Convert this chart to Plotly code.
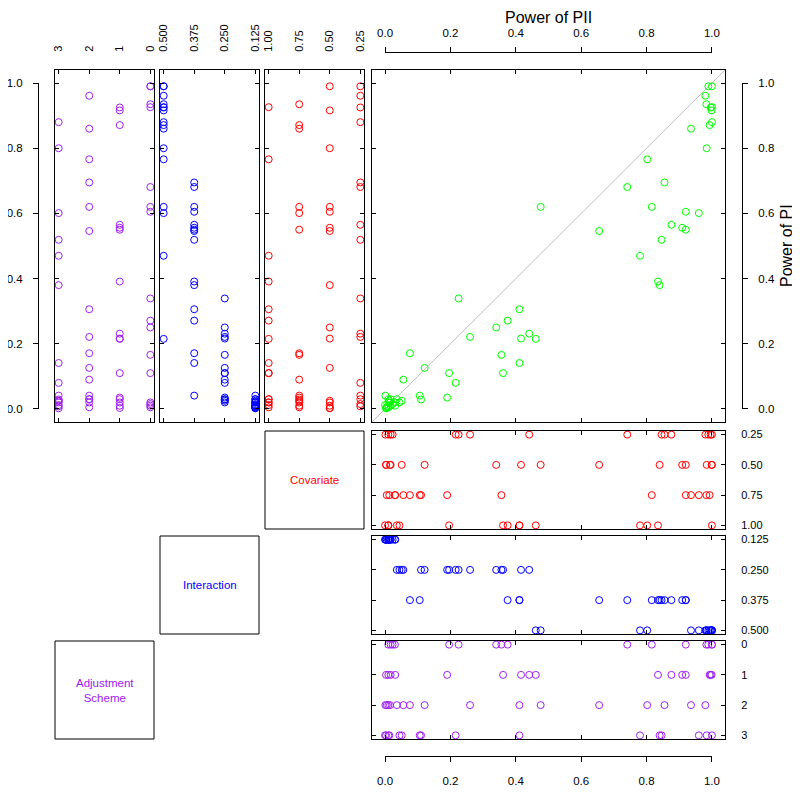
import plotly.graph_objects as go

# ---------------- data ----------------
pii = [
    # interaction 0.500
    0.461, 0.476, 0.780, 0.802, 0.936, 0.960, 0.989, 1.000, 0.980, 0.983, 1.000, 0.999, 1.000, 0.993, 0.984, 0.996,
    # interaction 0.375
    0.855, 0.741, 0.816, 0.920, 0.876, 0.655, 0.909, 0.920, 0.846, 0.835, 0.840, 0.411, 0.375, 0.076, 0.411, 0.106,
    # interaction 0.250
    0.225, 0.340, 0.441, 0.260, 0.416, 0.356, 0.121, 0.196, 0.361, 0.056, 0.216, 0.110, 0.190, 0.036, 0.044, 0.051,
    # interaction 0.125
    0.023, 0.017, 0.001, 0.010, 0.017, 0.003, 0.015, 0.003, 0.030, 0.031, 0.005, 0.013, 0.010, 0.010, 0.010, 0.000,
]
pi_power = [
    0.215, 0.620, 0.470, 0.766, 0.860, 0.601, 0.990, 0.990, 0.961, 0.935, 0.926, 0.916, 0.880, 0.871, 0.800, 0.925,
    0.695, 0.681, 0.620, 0.605, 0.565, 0.546, 0.556, 0.550, 0.519, 0.391, 0.380, 0.306, 0.271, 0.171, 0.141, 0.041,
    0.339, 0.250, 0.231, 0.221, 0.216, 0.166, 0.126, 0.110, 0.110, 0.090, 0.080, 0.029, 0.035, 0.030, 0.020, 0.025,
    0.015, 0.030, 0.041, 0.008, 0.010, 0.003, 0.020, 0.002, 0.020, 0.010, 0.005, 0.025, 0.005, 0.020, 0.030, 0.012,
]
covariate = [
    1.00, 0.50, 1.00, 1.00, 0.75, 0.75, 0.25, 0.50, 0.25, 0.75, 1.00, 0.50, 0.25, 0.75, 0.50, 0.25,
    0.25, 0.25, 0.75, 0.50, 0.25, 0.50, 0.50, 0.75, 0.25, 1.00, 0.50, 1.00, 1.00, 0.75, 1.00, 0.75,
    0.25, 0.50, 0.25, 0.25, 0.50, 0.75, 0.50, 1.00, 1.00, 0.75, 0.25, 0.75, 0.75, 1.00, 1.00, 0.50,
    0.25, 0.25, 0.25, 0.25, 0.50, 0.50, 0.50, 0.50, 0.75, 0.75, 0.75, 0.75, 1.00, 1.00, 1.00, 1.00,
]
interaction = [0.500] * 16 + [0.375] * 16 + [0.250] * 16 + [0.125] * 16
adjustment = [
    1, 2, 3, 2, 2, 3, 0, 0, 2, 0, 0, 1, 3, 1, 3, 1,
    2, 0, 0, 0, 1, 2, 1, 1, 3, 1, 3, 2, 0, 2, 3, 3,
    0, 0, 1, 2, 1, 0, 2, 0, 1, 2, 3, 3, 1, 2, 3, 3,
    0, 1, 2, 3, 0, 1, 2, 3, 0, 1, 2, 3, 0, 1, 2, 3,
]

power_ticks = [0.0, 0.2, 0.4, 0.6, 0.8, 1.0]
power_labels = ["0.0", "0.2", "0.4", "0.6", "0.8", "1.0"]
adj_levels = [0, 1, 2, 3]
adj_labels = ["0", "1", "2", "3"]
int_levels = [0.125, 0.250, 0.375, 0.500]
int_labels = ["0.125", "0.250", "0.375", "0.500"]
cov_levels = [0.25, 0.50, 0.75, 1.00]
cov_labels = ["0.25", "0.50", "0.75", "1.00"]

# ---------------- layout geometry (window pixels) ----------------
# the page body keeps its default 8px margin, so the figure is drawn 8px in
OFF = 8
FW, FH = 800 - OFF, 792 - OFF
def fx(p):
    return (p - OFF) / FW
def fy(p):
    return 1 - (p - OFF) / FH

COL = {"adj": (55, 154), "int": (160, 259), "cov": (265, 364), "main": (372, 725)}
ROW = {"main": (70, 422), "cov": (431, 529), "int": (536, 634), "adj": (641, 739)}

PURPLE = "#A020F0"
BLUE = "#0000FF"
RED = "#FF0000"
GREEN = "#00FF00"
FONT = "Liberation Sans, Arial, Helvetica, sans-serif"

def padded(vals, rev=False):
    lo, hi = min(vals), max(vals)
    d = (hi - lo) * 0.04
    r = [lo - d, hi + d]
    return r[::-1] if rev else r

P_RANGE = padded(power_ticks)
ADJ_RANGE = padded(adj_levels, rev=True)
INT_RANGE = padded(int_levels, rev=True)
COV_RANGE = padded(cov_levels, rev=True)

def xdom(c):
    a, b = COL[c]
    return [fx(a), fx(b)]
def ydom(r):
    a, b = ROW[r]
    return [fy(b), fy(a)]

def panel_axis(domain, rng, tickvals, anchor, ticktext=None, side=None,
               labels=False, angle=None, standoff=0):
    ax = dict(domain=domain, range=rng, tickvals=tickvals, anchor=anchor,
              ticks="inside", ticklen=4, tickwidth=1, tickcolor="black",
              showline=True, linecolor="black", linewidth=1, mirror="ticks",
              showgrid=False, zeroline=False, showticklabels=labels,
              automargin=False,
              tickfont=dict(family=FONT, size=11, color="black"))
    if ticktext is not None:
        ax["ticktext"] = ticktext
    if side is not None:
        ax["side"] = side
    if angle is not None:
        ax["tickangle"] = angle
    if standoff:
        ax["ticklabelstandoff"] = standoff
    return ax

def mk(x, y, color, xa, ya):
    return go.Scatter(x=x, y=y, mode="markers", xaxis=xa, yaxis=ya,
                      marker=dict(symbol="circle-open", size=7, color=color,
                                  line=dict(width=1, color=color)),
                      showlegend=False, hoverinfo="skip")

fig = go.Figure()
# top row: PI against each factor, then main panel
fig.add_trace(mk(adjustment, pi_power, PURPLE, "x", "y"))
fig.add_trace(mk(interaction, pi_power, BLUE, "x2", "y2"))
fig.add_trace(mk(covariate, pi_power, RED, "x3", "y3"))
fig.add_trace(go.Scatter(x=P_RANGE, y=P_RANGE, mode="lines", xaxis="x4", yaxis="y4",
                         line=dict(color="#BEBEBE", width=1), showlegend=False,
                         hoverinfo="skip"))
fig.add_trace(mk(pii, pi_power, GREEN, "x4", "y4"))
# lower strips: PII against each factor
fig.add_trace(mk(pii, covariate, RED, "x5", "y5"))
fig.add_trace(mk(pii, interaction, BLUE, "x6", "y6"))
fig.add_trace(mk(pii, adjustment, PURPLE, "x7", "y7"))
# carriers for the outer axes
fig.add_trace(go.Scatter(x=[], y=[], xaxis="x8", yaxis="y10", showlegend=False))
fig.add_trace(go.Scatter(x=[], y=[], xaxis="x9", yaxis="y11", showlegend=False))

# pixel position of 0 and 1 on the power scale inside the main panel
def hpx(v):
    a, b = COL["main"]
    return a + (v - P_RANGE[0]) / (P_RANGE[1] - P_RANGE[0]) * (b - a)
def vpx(v):
    a, b = ROW["main"]
    return b - (v - P_RANGE[0]) / (P_RANGE[1] - P_RANGE[0]) * (b - a)
mx0, mx1 = hpx(0.0), hpx(1.0)
my0, my1 = vpx(0.0), vpx(1.0)

def outer_axis(domain, side, position, standoff):
    return dict(domain=domain, range=[0, 1], anchor="free", position=position, side=side,
                tickvals=power_ticks, ticktext=power_labels, ticks="outside",
                ticklen=5, tickwidth=1, tickcolor="black", showline=True,
                linecolor="black", linewidth=1, showgrid=False, zeroline=False,
                ticklabelstandoff=standoff, automargin=False,
                tickfont=dict(family=FONT, size=11.5, color="black"))

layout = dict(
    width=FW, height=FH, margin=dict(l=0, r=0, t=0, b=0, autoexpand=False),
    paper_bgcolor="white", plot_bgcolor="rgba(0,0,0,0)", showlegend=False,
    font=dict(family=FONT, color="black"),
    xaxis=panel_axis(xdom("adj"), ADJ_RANGE, adj_levels, "y", adj_labels, "top", True, -90, 15),
    yaxis=panel_axis(ydom("main"), P_RANGE, power_ticks, "x"),
    xaxis2=panel_axis(xdom("int"), INT_RANGE, int_levels, "y2", int_labels, "top", True, -90, 15),
    yaxis2=panel_axis(ydom("main"), P_RANGE, power_ticks, "x2"),
    xaxis3=panel_axis(xdom("cov"), COV_RANGE, cov_levels, "y3", cov_labels, "top", True, -90, 15),
    yaxis3=panel_axis(ydom("main"), P_RANGE, power_ticks, "x3"),
    xaxis4=panel_axis(xdom("main"), P_RANGE, power_ticks, "y4"),
    yaxis4=panel_axis(ydom("main"), P_RANGE, power_ticks, "x4"),
    xaxis5=panel_axis(xdom("main"), P_RANGE, power_ticks, "y5"),
    yaxis5=panel_axis(ydom("cov"), COV_RANGE, cov_levels, "x5", cov_labels, "right", True, None, 13),
    xaxis6=panel_axis(xdom("main"), P_RANGE, power_ticks, "y6"),
    yaxis6=panel_axis(ydom("int"), INT_RANGE, int_levels, "x6", int_labels, "right", True, None, 13),
    xaxis7=panel_axis(xdom("main"), P_RANGE, power_ticks, "y7"),
    yaxis7=panel_axis(ydom("adj"), ADJ_RANGE, adj_levels, "x7", adj_labels, "right", True, None, 13),
    xaxis8=outer_axis([fx(mx0), fx(mx1)], "top", fy(52), 5),
    xaxis9=outer_axis([fx(mx0), fx(mx1)], "bottom", fy(756), 9),
    yaxis10=outer_axis([fy(my0), fy(my1)], "left", fx(38), 8),
    yaxis11=outer_axis([fy(my0), fy(my1)], "right", fx(742), 8),
)
fig.update_layout(**layout)

# diagonal name boxes
boxes = [("Covariate", "cov", "cov", RED),
         ("Interaction", "int", "int", BLUE),
         ("Adjustment<br>Scheme", "adj", "adj", PURPLE)]
for text, c, r, color in boxes:
    x0, x1 = COL[c]
    y0, y1 = ROW[r]
    fig.add_shape(type="rect", xref="paper", yref="paper",
                  x0=fx(x0), x1=fx(x1), y0=fy(y1), y1=fy(y0),
                  line=dict(color="black", width=1))
    fig.add_annotation(xref="paper", yref="paper", x=fx((x0 + x1) / 2), y=fy((y0 + y1) / 2),
                       text=text, showarrow=False, xanchor="center", yanchor="middle",
                       font=dict(family=FONT, size=11.5, color=color))

# axis titles
fig.add_annotation(xref="paper", yref="paper", x=fx((mx0 + mx1) / 2), y=fy(OFF),
                   text="Power of PII", showarrow=False, xanchor="center", yanchor="top",
                   borderpad=0, font=dict(family=FONT, size=16, color="black"))
fig.add_annotation(xref="paper", yref="paper", x=fx(786), y=fy((my0 + my1) / 2),
                   text="Power of PI", showarrow=False, xanchor="center", yanchor="middle",
                   textangle=-90, font=dict(family=FONT, size=16, color="black"))

fig.write_html("out.html")
